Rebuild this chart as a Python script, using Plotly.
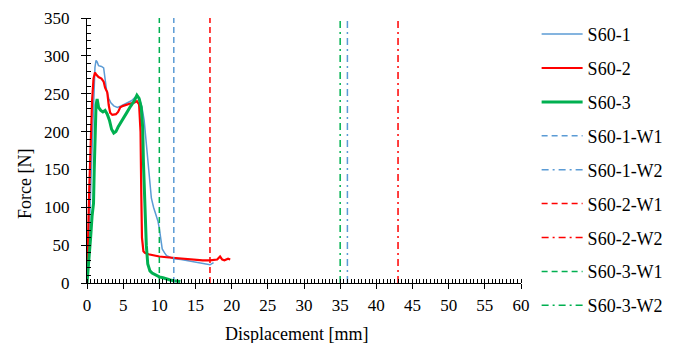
import plotly.graph_objects as go

# ---- data ----
s1_x = [0, 0.3, 0.6, 0.9, 1.1, 1.25, 1.4, 1.6, 2.0, 2.3, 2.5, 2.7, 3.0, 3.3, 3.7, 4.2, 4.7, 5.2, 5.7,
        6.2, 6.6, 7.0, 7.3, 7.6, 7.9, 8.1, 8.3, 8.5, 8.7, 8.9, 9.2, 9.5, 9.8, 10.0, 10.2, 10.4, 10.7,
        11.0, 11.5, 12.0, 13.0, 14.0, 15.0, 16.0, 16.5, 17.0, 17.5]
s1_y = [0, 60, 150, 240, 285, 294, 292, 287, 286, 284, 270, 255, 244, 238, 234, 232, 234, 236, 238,
        241, 245, 247, 242, 232, 215, 195, 170, 150, 130, 112, 100, 92, 82, 72, 55, 45, 40,
        36, 34, 32, 31, 29, 28, 26, 25, 24, 27]

s2_x = [0, 0.1, 0.3, 0.5, 0.7, 0.9, 1.1, 1.3, 1.6, 2.0, 2.3, 2.5, 2.8, 3.0, 3.2, 3.5, 4.0, 4.3, 4.6,
        5.0, 5.5, 6.0, 6.5, 6.9, 7.2, 7.4, 7.5, 7.6, 7.8, 8.0, 8.5, 9.0, 9.5, 10, 11, 12, 13, 14, 15,
        16, 17, 18, 18.4, 18.7, 19, 19.5, 19.8]
s2_y = [25, 40, 120, 190, 240, 270, 278, 275, 272, 270, 266, 258, 252, 235, 225, 222, 223, 226, 232,
        234, 236, 237, 238, 240, 236, 200, 120, 60, 42, 40, 38, 37, 36, 35, 34, 33, 32, 31, 31,
        30, 30, 31, 35, 31, 30, 32, 31]

s3_x = [0, 0.2, 0.5, 0.7, 0.9, 1.0, 1.1, 1.25, 1.4, 1.6, 1.9, 2.2, 2.5, 2.8, 3.1, 3.4, 3.7, 4.0, 4.3,
        4.7, 5.1, 5.5, 6.0, 6.5, 6.9, 7.2, 7.5, 7.7, 7.8, 7.95, 8.1, 8.2, 8.4, 8.7, 9.0, 9.5, 10,
        10.5, 11, 11.5, 12, 12.5, 12.9]
s3_y = [0, 20, 60, 88, 105, 150, 200, 235, 243, 232, 228, 226, 228, 223, 215, 203, 198, 200, 206,
        213, 218, 225, 233, 240, 248, 244, 232, 205, 160, 120, 80, 50, 25, 16, 13, 10, 8,
        7, 5, 4, 3, 2, 2]

curve_names = ["S60-1", "S60-2", "S60-3"]
curve_colors = ["#5B9BD5", "#FF0000", "#00B050"]
curve_widths = [1.5, 2.2, 3]

wall_names = ["S60-1-W1", "S60-1-W2", "S60-2-W1", "S60-2-W2", "S60-3-W1", "S60-3-W2"]
wall_pos = [12, 36, 17, 43, 10, 35]
wall_colors = ["#5B9BD5", "#5B9BD5", "#FF0000", "#FF0000", "#00B050", "#00B050"]
wall_dash = ["6px,4px", "7px,4px,2px,4px", "6px,4px", "7px,4px,2px,4px", "6px,4px", "7px,4px,2px,4px"]
wall_span = [0, 350]

x_ticks = list(range(0, 61, 5))
y_ticks = list(range(0, 351, 50))

FONT = "Liberation Serif"

fig = go.Figure()
for i, (xs, ys) in enumerate([(s1_x, s1_y), (s2_x, s2_y), (s3_x, s3_y)]):
    fig.add_trace(go.Scatter(x=xs, y=ys, mode="lines", name=curve_names[i],
                             legendgroup=curve_names[i],
                             line=dict(color=curve_colors[i], width=curve_widths[i])))
for i, nm in enumerate(wall_names):
    fig.add_trace(go.Scatter(x=[wall_pos[i], wall_pos[i]], y=wall_span, mode="lines", name=nm,
                             legendgroup=nm,
                             line=dict(color=wall_colors[i], width=1.5, dash=wall_dash[i])))

axis_common = dict(showgrid=False, zeroline=False, showline=True, linecolor="black", linewidth=1,
                   ticks="outside", ticklen=5, tickcolor="black", tickwidth=1,
                   tickfont=dict(family=FONT, size=17, color="black"))

fig.update_xaxes(range=[0, 60], tickvals=x_ticks, ticktext=[str(v) for v in x_ticks],
                 minor=dict(ticks="inside", dtick=0.5, ticklen=4, tickcolor="black"),
                 ticklabelstandoff=2, **axis_common)
fig.update_yaxes(range=[0, 350], tickvals=y_ticks, ticktext=[str(v) for v in y_ticks],
                 minor=dict(ticks="inside", dtick=10, ticklen=4, tickcolor="black"),
                 ticklabelstandoff=8, **axis_common)

fig.add_annotation(text="Force [N]", textangle=-90, xref="paper", yref="paper",
                   x=-0.143, y=0.373, xanchor="center", yanchor="middle", showarrow=False,
                   font=dict(family=FONT, size=18, color="black"))
fig.add_annotation(text="Displacement [mm]", xref="paper", yref="paper",
                   x=0.482, y=-0.192, xanchor="center", yanchor="middle", showarrow=False,
                   font=dict(family=FONT, size=18, color="black"))

fig.update_layout(
    width=678, height=343,
    margin=dict(l=87, r=157, t=18, b=60, autoexpand=False),
    paper_bgcolor="white", plot_bgcolor="white",
    font=dict(family=FONT, color="black"),
    showlegend=True,
    legend=dict(x=1.036, y=1.008, xanchor="left", yanchor="top",
                font=dict(family=FONT, size=18, color="black"),
                traceorder="grouped", tracegroupgap=7.5, itemwidth=41,
                maxheight=400,
                bgcolor="rgba(0,0,0,0)"),
)

fig.write_html("out.html",
               config={"displayModeBar": False},
               post_script="document.body.style.margin='0';document.body.style.padding='0';"
                           "document.body.style.overflow='hidden';")
